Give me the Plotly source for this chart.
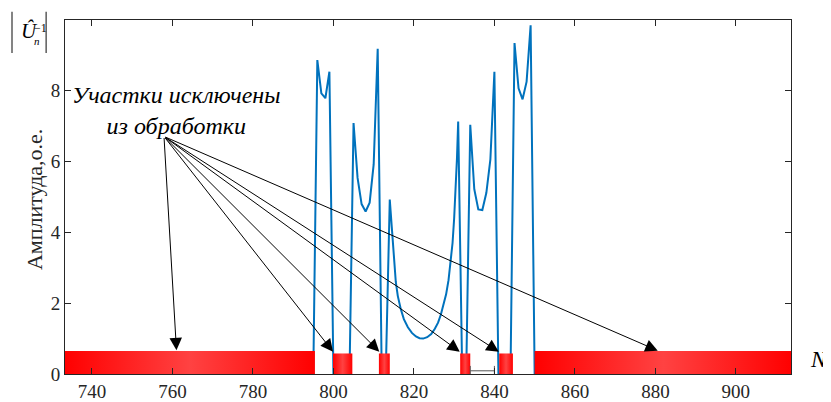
import plotly.graph_objects as go

# ---- data ----
sig_x = [733, 795, 796, 797, 798, 799, 800, 804, 805, 806, 807, 808, 809, 810, 811, 812, 813,
         814, 814.5, 815.0, 815.5, 816.0, 816.7, 817.5, 818.5, 819.5, 820.5, 821.4, 822.3,
         823.3, 824.3, 825.2, 826.0, 826.7, 827.4, 828.0, 828.6, 829.1, 829.6, 830.0, 830.4,
         830.7, 831, 832, 833, 834, 835, 836, 837, 838, 839, 840, 841, 844, 845, 846, 847,
         848, 849, 850, 914]
sig_y = [0, 0, 8.87, 7.93, 7.79, 8.54, 0, 0, 7.09, 5.54, 4.80, 4.59, 4.84, 5.92, 9.19, 0, 0,
         4.93, 4.15, 3.20, 2.60, 2.20, 1.85, 1.55, 1.32, 1.16, 1.06, 1.01, 1.00,
         1.04, 1.13, 1.28, 1.45, 1.68, 1.95, 2.25, 2.65, 3.10, 3.70, 4.40, 5.30,
         6.10, 7.13, 0, 0, 7.04, 5.22, 4.65, 4.63, 5.12, 6.06, 8.54, 0, 0, 9.35, 8.07, 7.76,
         8.26, 9.85, 0, 0]

excl_start = [733.3, 799.9, 811.3, 831.5, 841.2, 850.0]
excl_end = [795.4, 804.7, 814.0, 834.0, 844.6, 914.0]
excl_height = [0.65, 0.58, 0.58, 0.58, 0.58, 0.65]

arrow_tail = (757.9, 6.71)
arrow_tip_x = [761.0, 799.9, 811.4, 831.4, 841.1, 880.6]
arrow_tip_y = [0.67, 0.63, 0.63, 0.63, 0.63, 0.66]

scale_x = [834, 840]
scale_y = [0.09, 0.09]

x_ticks = [740, 760, 780, 800, 820, 840, 860, 880, 900]
y_ticks = [0, 2, 4, 6, 8]

SERIF = "Liberation Serif, Times New Roman, serif"
AX = "#262626"

fig = go.Figure()

fig.add_trace(go.Scatter(x=sig_x, y=sig_y, mode="lines",
                         line=dict(color="#0072BD", width=2), hoverinfo="skip",
                         showlegend=False))

for s, e, h in zip(excl_start, excl_end, excl_height):
    fig.add_trace(go.Scatter(
        x=[s, e, e, s, s], y=[0, 0, h, h, 0], mode="lines", fill="toself",
        line=dict(width=0, color="red"),
        fillgradient=dict(type="horizontal",
                          colorscale=[[0, "#ff0000"], [0.5, "#ff4242"], [1, "#ff0000"]]),
        hoverinfo="skip", showlegend=False))

fig.add_trace(go.Scatter(x=scale_x, y=scale_y, mode="lines+markers",
                         line=dict(color="#555555", width=1),
                         marker=dict(symbol="line-ns", size=7, line=dict(width=1, color="#555555")),
                         hoverinfo="skip", showlegend=False))

annotations = []
for tx, ty in zip(arrow_tip_x, arrow_tip_y):
    annotations.append(dict(x=tx, y=ty, xref="x", yref="y", ax=arrow_tail[0], ay=arrow_tail[1],
                            axref="x", ayref="y", showarrow=True, arrowhead=2, arrowsize=2.5,
                            arrowwidth=1, arrowcolor="black", text=""))

annotations.append(dict(x=761.0, y=7.44, xref="x", yref="y", showarrow=False,
                        yanchor="middle",
                        text="<i>Участки исключены</i><br><i>из обработки</i>",
                        font=dict(family=SERIF, size=24, color="black"),
                        align="center"))

# top-left axis symbol |Û_n^-1|
annotations.append(dict(x=-0.063, y=0.969, xref="paper", yref="paper", showarrow=False,
                        xanchor="left", yanchor="middle",
                        text="<i>Û</i>",
                        font=dict(family=SERIF, size=21, color="black")))
annotations.append(dict(x=-0.045, y=0.941, xref="paper", yref="paper", showarrow=False,
                        xanchor="left", yanchor="middle",
                        text="<i>n</i>",
                        font=dict(family=SERIF, size=11, color="black")))
annotations.append(dict(x=-0.046, y=0.978, xref="paper", yref="paper", showarrow=False,
                        xanchor="left", yanchor="middle",
                        text="−1",
                        font=dict(family=SERIF, size=12, color="black")))

annotations.append(dict(x=-0.0427, y=0.494, xref="paper", yref="paper", showarrow=False,
                        xanchor="center", yanchor="middle", textangle=-90,
                        text="Амплитуда,о.е.",
                        font=dict(family=SERIF, size=22, color=AX)))

annotations.append(dict(x=1.054, y=0.04, xref="paper", yref="paper", showarrow=False,
                        xanchor="right", yanchor="middle", text="<i>N</i>",
                        font=dict(family=SERIF, size=23, color="black")))

shapes = [
    dict(type="line", xref="paper", yref="paper", x0=-0.073, x1=-0.073, y0=0.907, y1=1.023,
         line=dict(color="#333333", width=1.2)),
    dict(type="line", xref="paper", yref="paper", x0=-0.026, x1=-0.026, y0=0.907, y1=1.023,
         line=dict(color="#333333", width=1.2)),
]

# page body adds an 8px offset; the figure is sized so the plot area lands where the
# reference has it (x 65..791, y 20..374 of the window)
fig.update_layout(
    width=823, height=394,
    margin=dict(l=57, r=40, t=12, b=28),
    plot_bgcolor="white", paper_bgcolor="white",
    font=dict(family=SERIF, size=19, color=AX),
    annotations=annotations, shapes=shapes,
    xaxis=dict(range=[733.3, 913.7], tickvals=x_ticks, ticks="inside", ticklen=6,
               tickcolor=AX, showline=True, linecolor=AX, linewidth=1, mirror="ticks",
               showgrid=False, zeroline=False, automargin=False,
               tickfont=dict(family=SERIF, size=19, color=AX)),
    yaxis=dict(range=[0, 10], tickvals=y_ticks, ticks="inside", ticklen=6,
               tickcolor=AX, showline=True, linecolor=AX, linewidth=1, mirror="ticks",
               showgrid=False, zeroline=False, automargin=False,
               tickfont=dict(family=SERIF, size=19, color=AX)),
)

fig.write_html("out.html")
